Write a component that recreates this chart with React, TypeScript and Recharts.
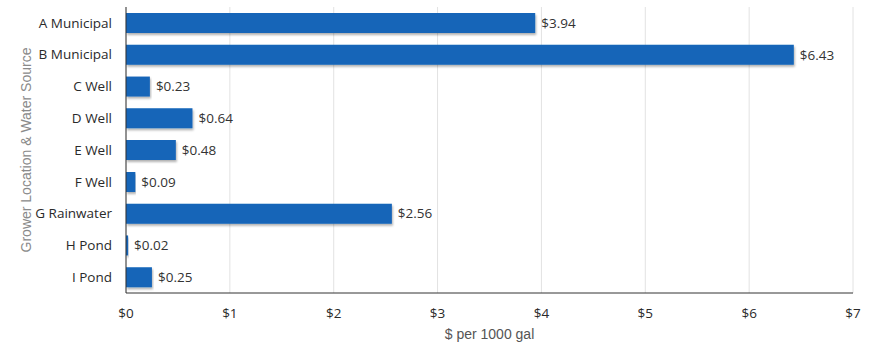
import { Bar, BarChart, CartesianGrid, LabelList, XAxis, YAxis } from "recharts";

const categories = [
  "A Municipal",
  "B Municipal",
  "C Well",
  "D Well",
  "E Well",
  "F Well",
  "G Rainwater",
  "H Pond",
  "I Pond",
];
const costs = [3.94, 6.43, 0.23, 0.64, 0.48, 0.09, 2.56, 0.02, 0.25];
const xTicks = [0, 1, 2, 3, 4, 5, 6, 7];

const chartData = categories.map((name, i) => ({ name, cost: costs[i] }));

const tickFont = { fontFamily: "'Open Sans', sans-serif", fontSize: 13.5, fill: "#2a2a2a" };
const titleFont = "'Liberation Sans', Arial, sans-serif";

const YTitle = ({ viewBox }: any) => {
  const cx = viewBox.x;
  const cy = viewBox.y + viewBox.height / 2;
  return (
    <text
      x={cx}
      y={cy}
      transform={`rotate(-90, ${cx}, ${cy})`}
      textAnchor="middle"
      dominantBaseline="central"
      fill="#8a8a8a"
      fontSize={14}
      fontFamily={titleFont}
    >
      Grower Location &amp; Water Source
    </text>
  );
};

const App = () => {
  return (
    <div style={{ position: "absolute", left: 0, top: 0, background: "#fff" }}>
      <svg width={0} height={0} style={{ position: "absolute" }}>
        <defs>
          <filter id="barShadow" x="-5%" y="-20%" width="110%" height="160%">
            <feDropShadow dx="1" dy="2" stdDeviation="1" floodColor="#000" floodOpacity="0.3" />
          </filter>
        </defs>
      </svg>
      <BarChart
        width={878}
        height={345}
        data={chartData}
        layout="vertical"
        margin={{ top: 7, right: 25, bottom: 0, left: 26 }}
        barSize={20}
      >
        <CartesianGrid horizontal={false} stroke="#e2e2e2" />
        <XAxis
          type="number"
          domain={[0, 7]}
          ticks={xTicks}
          interval={0}
          tickFormatter={(v) => `$${v}`}
          tick={tickFont}
          tickLine={false}
          tickMargin={9}
          axisLine={{ stroke: "#333" }}
          height={52}
          label={{
            value: "$ per 1000 gal",
            position: "insideBottom",
            offset: 6,
            fill: "#555",
            fontSize: 14,
            fontFamily: titleFont,
          }}
        />
        <YAxis
          type="category"
          dataKey="name"
          width={100}
          tick={tickFont}
          tickLine={false}
          tickMargin={8}
          axisLine={{ stroke: "#333" }}
          label={<YTitle />}
        />
        <Bar dataKey="cost" fill="#1565b8" isAnimationActive={false} filter="url(#barShadow)">
          <LabelList
            dataKey="cost"
            position="right"
            offset={6}
            formatter={(v: any) => `$${Number(v).toFixed(2)}`}
            fill="#333"
            fontSize={13.5}
            fontFamily="'Open Sans', sans-serif"
          />
        </Bar>
      </BarChart>
    </div>
  );
};

export default App;
